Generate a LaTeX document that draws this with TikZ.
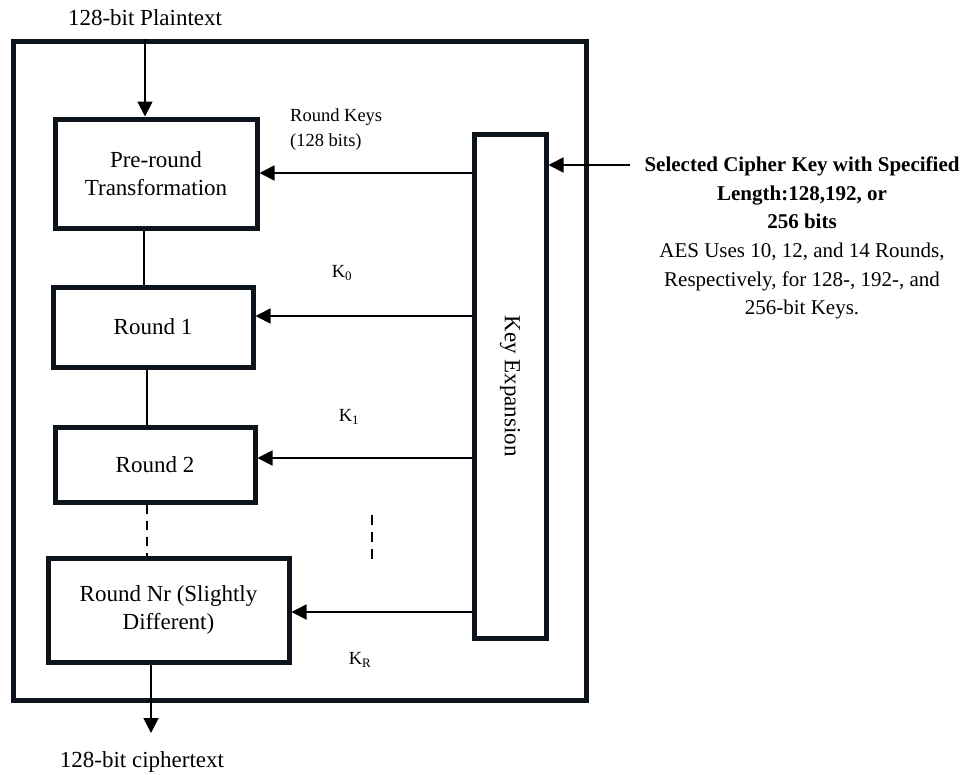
\documentclass[tikz,border=0pt]{standalone}
\usepackage{fontspec}
\setmainfont{Liberation Serif}
\usetikzlibrary{arrows.meta}
\definecolor{boxcol}{RGB}{14,20,28}
\begin{document}
\begin{tikzpicture}[x=1pt,y=-1pt,
  blk/.style={draw=boxcol,line width=5pt,rectangle,inner sep=0pt,align=center,
    font=\fontsize{23}{28}\selectfont},
  arr/.style={line width=1.8pt,-{Triangle[length=15pt,width=15pt]}},
  link/.style={line width=1.8pt},
  lbl/.style={font=\fontsize{18.5}{25}\selectfont,inner sep=0pt},
  big/.style={font=\fontsize{23}{28}\selectfont,inner sep=0pt},
  side/.style={font=\fontsize{21}{28.6}\selectfont,inner sep=0pt,align=center}]
\useasboundingbox (0,0) rectangle (966,774);
\node[blk,minimum width=573,minimum height=659] (outer) at (299.5,370.5) {};
\node[blk,minimum width=202,minimum height=109] (pre) at (156,173.5) {Pre-round\\Transformation};
\node[blk,minimum width=200,minimum height=80] (r1) at (153,327) {Round 1};
\node[blk,minimum width=200,minimum height=75] (r2) at (155,464.5) {Round 2};
\node[blk,minimum width=241,minimum height=104] (rn) at (168.5,610) {Round Nr (Slightly\\Different)};
\node[blk,minimum width=72,minimum height=504] (ke) at (510,386) {};
\node[big,rotate=-90] (ketext) at (ke.center) {Key Expansion};
\node[big] (pt) at (145,18) {128-bit Plaintext};
\node[big] (ct) at (142,762) {128-bit ciphertext};
\coordinate (ctend) at (151,733);
\node[lbl,anchor=west,align=left] (rk) at (290,129.5) {Round Keys\\(128 bits)};
\node[lbl] (k0) at (342,273) {K\textsubscript{0}};
\node[lbl] (k1) at (349,417) {K\textsubscript{1}};
\node[lbl] (kr) at (360,660) {K\textsubscript{R}};
\node[side] (info) at (802,238) {\textbf{Selected Cipher Key with Specified}\\\textbf{Length:128,192, or}\\\textbf{256 bits}\\AES Uses 10, 12, and 14 Rounds,\\Respectively, for 128-, 192-, and\\256-bit Keys.};
\coordinate (keysrc) at (630,165);
\coordinate (dtop) at (372,515);
\coordinate (dbot) at (372,565);
% main chain
\draw[arr] (outer.north -| 145,0) -- (pre.north -| 145,0);
\draw[link] (pre.south -| 144,0) -- (r1.north -| 144,0);
\draw[link] (r1.south -| 147,0) -- (r2.north -| 147,0);
\draw[link,dash pattern=on 9pt off 7pt] (r2.south -| 147,0) -- (rn.north -| 147,0);
\draw[arr] (rn.south -| 151,0) -- (ctend);
% round keys
\draw[arr] (ke.west |- 0,173) -- (pre.east |- 0,173);
\draw[arr] (ke.west |- 0,316) -- (r1.east |- 0,316);
\draw[arr] (ke.west |- 0,458) -- (r2.east |- 0,458);
\draw[arr] (ke.west |- 0,612) -- (rn.east |- 0,612);
\draw[link,dash pattern=on 10pt off 7pt] (dtop) -- (dbot);
% cipher key input
\draw[arr] (keysrc) -- (ke.east |- keysrc);
\end{tikzpicture}
\end{document}
